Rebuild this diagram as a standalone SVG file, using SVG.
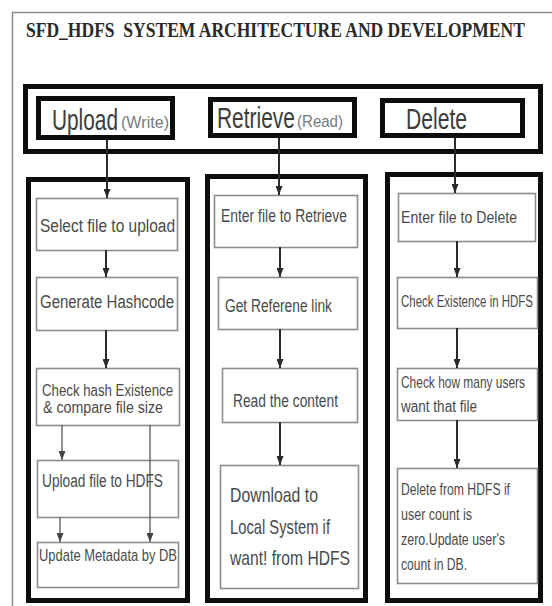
<svg xmlns="http://www.w3.org/2000/svg" width="552" height="606" viewBox="0 0 552 606">
<defs>
<style>
.frame{fill:none;stroke:#8a8a8a;stroke-width:1.5}
.thick{fill:none;stroke:#0d0d0d;stroke-width:5}
.box{fill:#fff;stroke:#8c8c8c;stroke-width:1.6}
.title{font-family:"Liberation Serif",serif;font-weight:bold;font-size:21px;fill:#2a2a2a;white-space:pre}
.big{font-family:"Liberation Sans",Arial,sans-serif;font-size:29px;fill:#3c3c3c}
.small{font-family:"Liberation Sans",Arial,sans-serif;font-size:16px;fill:#7a7a7a}
.t{font-family:"Liberation Sans",Arial,sans-serif;font-size:18px;fill:#4a4a4a}
.t17{font-family:"Liberation Sans",Arial,sans-serif;font-size:17px;fill:#4a4a4a}
.t16{font-family:"Liberation Sans",Arial,sans-serif;font-size:16px;fill:#4a4a4a}
.t21{font-family:"Liberation Sans",Arial,sans-serif;font-size:21px;fill:#4a4a4a}
.c{fill:none;stroke:#2a2a2a;stroke-width:2;marker-end:url(#ah)}
.c2{fill:none;stroke:#555;stroke-width:1.3;marker-end:url(#ah2)}
</style>
<marker id="ah" viewBox="0 0 9 7" refX="9" refY="3.5" markerWidth="9" markerHeight="7" markerUnits="userSpaceOnUse" orient="auto" preserveAspectRatio="none">
<path d="M0,0 L9,3.5 L0,7 z" fill="#2a2a2a"/>
</marker>
<marker id="ah2" viewBox="0 0 9 7" refX="9" refY="3.5" markerWidth="9" markerHeight="7" markerUnits="userSpaceOnUse" orient="auto" preserveAspectRatio="none">
<path d="M0,0 L9,3.5 L0,7 z" fill="#444"/>
</marker>
</defs>
<rect x="0" y="0" width="552" height="606" fill="#fff"/>
<path class="frame" d="M12.5,606 V12.5 H552"/>
<text class="title" transform="translate(26,37) scale(0.83,1)" x="0" y="0" textLength="601" lengthAdjust="spacingAndGlyphs" xml:space="preserve">SFD_HDFS  SYSTEM ARCHITECTURE AND DEVELOPMENT</text>

<g id="top-container">
<rect class="thick" x="25.5" y="86.5" width="515" height="65"/>
</g>
<g id="upload">
<rect class="thick" x="38.5" y="98.5" width="134" height="39" fill="#fff"/>
<text class="big" transform="translate(52,130) scale(0.718,1)" x="0" y="0" textLength="91.9" lengthAdjust="spacingAndGlyphs">Upload</text>
<text class="small" x="121" y="128" textLength="48" lengthAdjust="spacingAndGlyphs">(Write)</text>
</g>
<g id="retrieve">
<rect class="thick" x="210.5" y="99.5" width="144" height="36" fill="#fff"/>
<text class="big" transform="translate(217,128) scale(0.722,1)" x="0" y="0" textLength="108" lengthAdjust="spacingAndGlyphs">Retrieve</text>
<text class="small" x="297" y="127" textLength="46" lengthAdjust="spacingAndGlyphs">(Read)</text>
</g>
<g id="delete">
<rect class="thick" x="382.5" y="100.5" width="140" height="35" fill="#fff"/>
<text class="big" transform="translate(406,129) scale(0.728,1)" x="0" y="0" textLength="83.8" lengthAdjust="spacingAndGlyphs">Delete</text>
</g>

<g id="col-upload">
<rect class="thick" x="28.5" y="179.5" width="159" height="421"/>
</g>
<g id="col-retrieve">
<rect class="thick" x="207.5" y="176.5" width="158" height="424"/>
</g>
<g id="col-delete">
<rect class="thick" x="387.5" y="174.5" width="153" height="426"/>
</g>

<g id="select-file">
<rect class="box" x="36.5" y="198.5" width="141" height="52"/>
<text class="t" x="40" y="232" textLength="135" lengthAdjust="spacingAndGlyphs">Select file to upload</text>
</g>
<g id="generate-hash">
<rect class="box" x="36.5" y="277.5" width="141" height="53"/>
<text class="t" x="40" y="308" textLength="134" lengthAdjust="spacingAndGlyphs">Generate Hashcode</text>
</g>
<g id="check-hash">
<rect class="box" x="36.5" y="368.5" width="143" height="57"/>
<text class="t16" x="42" y="396" textLength="131" lengthAdjust="spacingAndGlyphs">Check hash Existence</text>
<text class="t16" x="43" y="413" textLength="120" lengthAdjust="spacingAndGlyphs">&amp; compare file size</text>
</g>
<g id="upload-hdfs">
<rect class="box" x="37.5" y="460.5" width="141" height="57"/>
<text class="t" x="42" y="487" textLength="121" lengthAdjust="spacingAndGlyphs">Upload file to HDFS</text>
</g>
<g id="update-metadata">
<rect class="box" x="37.5" y="542.5" width="141" height="45"/>
<text class="t17" x="39" y="561" textLength="138" lengthAdjust="spacingAndGlyphs">Update Metadata by DB</text>
</g>

<g id="enter-retrieve">
<rect class="box" x="214.5" y="195.5" width="143" height="52"/>
<text class="t" x="221" y="222" textLength="126" lengthAdjust="spacingAndGlyphs">Enter file to Retrieve</text>
</g>
<g id="get-link">
<rect class="box" x="218.5" y="277.5" width="139" height="52"/>
<text class="t" x="225" y="312" textLength="107" lengthAdjust="spacingAndGlyphs">Get Referene link</text>
</g>
<g id="read-content">
<rect class="box" x="222.5" y="368.5" width="135" height="54"/>
<text class="t" x="233" y="407" textLength="105" lengthAdjust="spacingAndGlyphs">Read the content</text>
</g>
<g id="download">
<rect class="box" x="220.5" y="465.5" width="138" height="123"/>
<text class="t21" x="230" y="502" textLength="88" lengthAdjust="spacingAndGlyphs">Download to</text>
<text class="t21" x="230" y="534" textLength="100" lengthAdjust="spacingAndGlyphs">Local System if</text>
<text class="t21" x="230" y="565" textLength="120" lengthAdjust="spacingAndGlyphs">want! from HDFS</text>
</g>

<g id="enter-delete">
<rect class="box" x="398.5" y="193.5" width="137" height="48"/>
<text class="t17" x="401" y="223" textLength="116" lengthAdjust="spacingAndGlyphs">Enter file to Delete</text>
</g>
<g id="check-existence">
<rect class="box" x="397.5" y="277.5" width="140" height="51"/>
<text class="t17" transform="translate(401,307) scale(0.675,1)" x="0" y="0" textLength="195.6" lengthAdjust="spacingAndGlyphs">Check Existence in HDFS</text>
</g>
<g id="check-users">
<rect class="box" x="397.5" y="368.5" width="140" height="52"/>
<text class="t16" transform="translate(401,388) scale(0.747,1)" x="0" y="0" textLength="166" lengthAdjust="spacingAndGlyphs">Check how many users</text>
<text class="t16" x="401" y="412" textLength="76" lengthAdjust="spacingAndGlyphs">want that file</text>
</g>
<g id="delete-hdfs">
<rect class="box" x="397.5" y="468.5" width="140" height="115"/>
<text class="t16" x="401" y="495" textLength="109" lengthAdjust="spacingAndGlyphs">Delete from HDFS if</text>
<text class="t16" x="401" y="520" textLength="71" lengthAdjust="spacingAndGlyphs">user count is</text>
<text class="t16" x="401" y="545" textLength="104" lengthAdjust="spacingAndGlyphs">zero.Update user's</text>
<text class="t16" x="401" y="570" textLength="66" lengthAdjust="spacingAndGlyphs">count in DB.</text>
</g>

<g id="connectors">
<path class="c" d="M107,140 V198"/>
<path class="c" d="M279,138 V195"/>
<path class="c" d="M455,138 V193"/>
<path class="c" d="M106,250 V277"/>
<path class="c" d="M106,330 V368"/>
<path class="c2" d="M62,425 V460"/>
<path class="c2" d="M150,425 V542"/>
<path class="c2" d="M60,517 V542"/>
<path class="c" d="M280,247 V277"/>
<path class="c" d="M280,329 V368"/>
<path class="c" d="M280,422 V465"/>
<path class="c" d="M457,241 V277"/>
<path class="c" d="M457,328 V368"/>
<path class="c" d="M457,420 V468"/>
</g>
</svg>
